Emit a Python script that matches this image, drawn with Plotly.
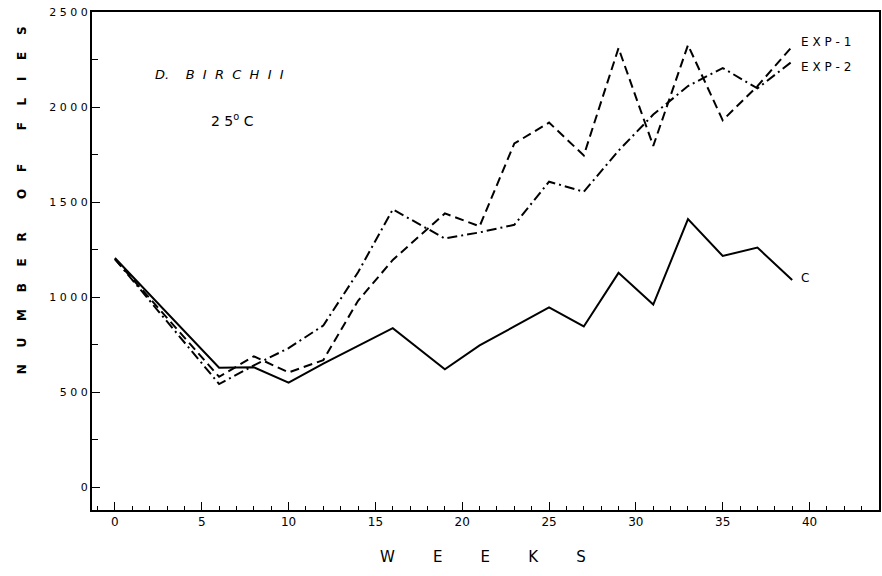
import plotly.graph_objects as go

# ---- data ----
weeks = [0, 6, 8, 10, 12, 14, 16, 19, 21, 23, 25, 27, 29, 31, 33, 35, 37, 39]
control = [1205, 628, 630, 549, 650, 742, 836, 620, 745, 845, 946, 845, 1127, 960, 1410, 1216, 1260, 1089]
exp1 = [1200, 580, 688, 603, 668, 980, 1195, 1440, 1372, 1808, 1918, 1745, 2310, 1795, 2326, 1930, 2110, 2318]
exp2 = [1200, 542, 640, 731, 850, 1130, 1461, 1308, 1340, 1380, 1607, 1554, 1770, 1960, 2110, 2205, 2098, 2240]

NB = "\u00a0"
x_tickvals = [0, 5, 10, 15, 20, 25, 30, 35, 40]
x_ticktext = ["0", "5", "10", "15", "20", "25", "30", "35", "40"]
y_tickvals = [0, 500, 1000, 1500, 2000, 2500]
y_ticktext = ["0", "5\u00a00\u00a00", "1\u00a00\u00a00\u00a00", "1\u00a05\u00a00\u00a00",
              "2\u00a00\u00a00\u00a00", "2\u00a05\u00a00\u00a00"]

series_names = ["C", "EXP-1", "EXP-2"]

FONT = "DejaVu Sans"

fig = go.Figure()
fig.add_trace(go.Scatter(x=weeks, y=control, mode="lines", name=series_names[0],
                         line=dict(color="black", width=2, dash="solid")))
fig.add_trace(go.Scatter(x=weeks, y=exp1, mode="lines", name=series_names[1],
                         line=dict(color="black", width=2, dash="9px,5px")))
fig.add_trace(go.Scatter(x=weeks, y=exp2, mode="lines", name=series_names[2],
                         line=dict(color="black", width=2, dash="10px,4px,2px,4px")))

axis_common = dict(showgrid=False, zeroline=False, showline=True, linecolor="black",
                   linewidth=2, mirror=True, ticks="inside", tickcolor="black",
                   tickwidth=1, ticklen=8)

fig.update_xaxes(range=[-1.32, 44.0], tickmode="array", tickvals=x_tickvals,
                 ticktext=x_ticktext,
                 tickfont=dict(family=FONT, size=12, color="black"),
                 minor=dict(ticks="inside", dtick=1, tick0=0, ticklen=4,
                            tickcolor="black", tickwidth=1, showgrid=False),
                 **axis_common)
fig.update_yaxes(range=[-121, 2500], tickmode="array", tickvals=y_tickvals,
                 ticktext=y_ticktext,
                 tickfont=dict(family=FONT, size=11, color="black"),
                 minor=dict(ticks="inside", dtick=250, tick0=0, ticklen=6,
                            tickcolor="black", tickwidth=1, showgrid=False),
                 **axis_common)


def spaced(words, letter_gap, word_gap, sep=NB):
    return (sep * word_gap).join((sep * letter_gap).join(list(w)) for w in words)


label_font = dict(family=FONT, size=12, color="black")
annotations = [
    dict(text=spaced(["NUMBER", "OF", "FLIES"], 4, 8), textangle=-90,
         xref="paper", yref="paper", x=-0.0887, y=0.6225, showarrow=False,
         xanchor="center", yanchor="middle",
         font=dict(family=FONT, size=12, color="black", weight="bold")),
    dict(text=spaced(["WEEKS"], 8, 8), xref="paper", yref="paper",
         x=0.497, y=-0.094, showarrow=False, xanchor="center", yanchor="middle",
         font=dict(family=FONT, size=15, color="black")),
    dict(text="<i>D." + NB * 4 + (NB * 2).join(list("BIRCHII")) + "</i>",
         xref="paper", yref="paper", x=(153 - 92) / 789, y=(510 - 74) / 498,
         showarrow=False, xanchor="left", yanchor="middle",
         font=dict(family=FONT, size=13, color="black")),
    dict(text="2" + NB + "5<sup>o</sup>" + NB + "C", xref="paper", yref="paper",
         x=(209 - 92) / 789, y=(510 - 120) / 498, showarrow=False,
         xanchor="left", yanchor="middle",
         font=dict(family=FONT, size=14, color="black")),
    dict(text=spaced([series_names[1]], 1, 1), xref="x", yref="y",
         x=39.4, y=2342, showarrow=False, xanchor="left", yanchor="middle",
         font=label_font),
    dict(text=spaced([series_names[2]], 1, 1), xref="x", yref="y",
         x=39.4, y=2210, showarrow=False, xanchor="left", yanchor="middle",
         font=label_font),
    dict(text=series_names[0], xref="x", yref="y", x=39.4, y=1100, showarrow=False,
         xanchor="left", yanchor="middle", font=label_font),
]

fig.update_layout(width=882, height=576, margin=dict(l=92, r=1, t=12, b=66),
                  paper_bgcolor="white", plot_bgcolor="white", showlegend=False,
                  annotations=annotations)

fig.write_html("out.html")
